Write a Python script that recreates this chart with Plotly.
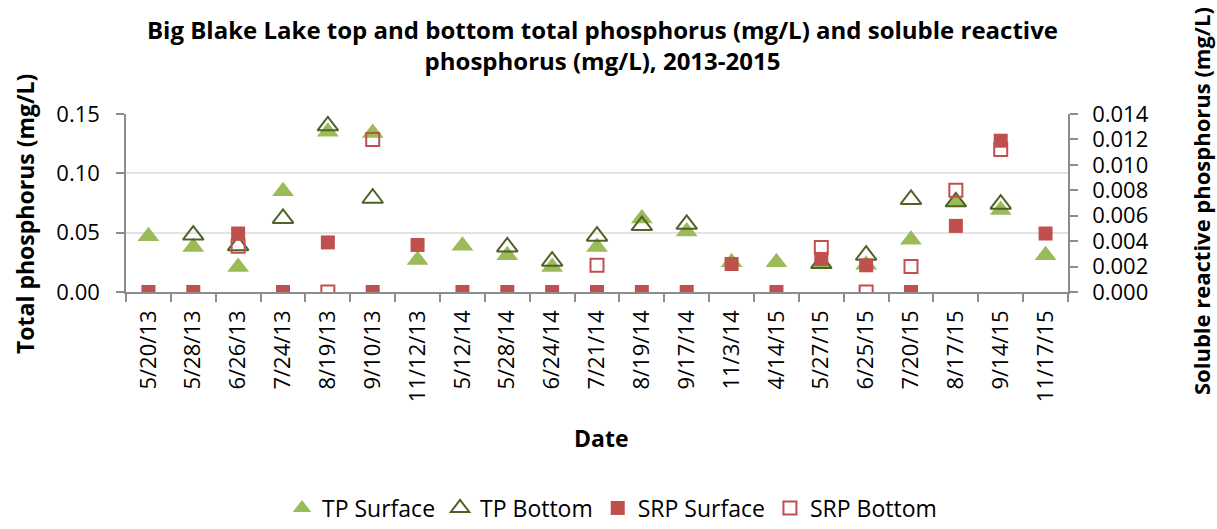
import plotly.graph_objects as go

dates = ["5/20/13", "5/28/13", "6/26/13", "7/24/13", "8/19/13", "9/10/13", "11/12/13",
         "5/12/14", "5/28/14", "6/24/14", "7/21/14", "8/19/14", "9/17/14", "11/3/14",
         "4/14/15", "5/27/15", "6/25/15", "7/20/15", "8/17/15", "9/14/15", "11/17/15"]

tp_surface = [0.047, 0.038, 0.021, 0.085, 0.135, 0.134, 0.027,
              0.039, 0.031, 0.021, 0.038, 0.062, 0.051, 0.025,
              0.025, 0.024, 0.023, 0.044, 0.076, 0.069, 0.031]
tp_bottom = [None, 0.048, 0.039, 0.062, 0.140, 0.079, None,
             None, 0.038, 0.026, 0.047, 0.056, 0.057, None,
             None, 0.024, 0.031, 0.078, 0.076, 0.074, None]
srp_surface = [0.0, 0.0, 0.0046, 0.0, 0.0039, 0.0, 0.0037,
               0.0, 0.0, 0.0, 0.0, 0.0, 0.0, 0.0022,
               0.0, 0.0026, 0.0021, 0.0, 0.0052, 0.0119, 0.0046]
srp_bottom = [None, None, 0.0036, None, 0.0, 0.0120, None,
              None, None, None, 0.0021, None, None, None,
              None, 0.0035, 0.0, 0.0020, 0.0080, 0.0112, None]

FONT = "Open Sans"
GREEN = "#9bbb59"
DKGREEN = "#4f6228"
RED = "#c0504d"
AXIS = "#8c8c8c"
FS = 22
TFS = 24
AFS = 23

fig = go.Figure()
fig.add_trace(go.Scatter(x=dates, y=tp_surface, mode="markers", name="TP Surface",
                         marker=dict(symbol="triangle-up", size=19, color=GREEN,
                                     line=dict(width=0))))
fig.add_trace(go.Scatter(x=dates, y=tp_bottom, mode="markers", name="TP Bottom",
                         marker=dict(symbol="triangle-up-open", size=18, color=DKGREEN,
                                     line=dict(width=2, color=DKGREEN))))
fig.add_trace(go.Scatter(x=dates, y=srp_surface, mode="markers", name="SRP Surface",
                         yaxis="y2",
                         marker=dict(symbol="square", size=14, color=RED,
                                     line=dict(width=0))))
fig.add_trace(go.Scatter(x=dates, y=srp_bottom, mode="markers", name="SRP Bottom",
                         yaxis="y2",
                         marker=dict(symbol="square-open", size=13, color=RED,
                                     line=dict(width=2, color=RED))))

fig.update_layout(
    width=1217, height=529,
    margin=dict(l=126, r=149, t=114, b=237, autoexpand=False),
    paper_bgcolor="white", plot_bgcolor="white",
    font=dict(family=FONT, size=FS, color="black"),
    title=dict(text="<b>Big Blake Lake top and bottom total phosphorus (mg/L) and soluble reactive<br>phosphorus (mg/L), 2013-2015</b>",
               x=602.5 / 1217, xanchor="center", y=1 - 38.5 / 529, yanchor="middle",
               font=dict(family=FONT, size=TFS, color="black")),
    xaxis=dict(type="category", categoryorder="array", categoryarray=dates,
               range=[-0.5, len(dates) - 0.5],
               showline=True, linecolor=AXIS, linewidth=1.5,
               ticks="outside", tickson="boundaries", ticklen=8, tickcolor=AXIS, tickwidth=1.5,
               tickangle=-90, showgrid=False, tickfont=dict(size=FS), ticklabelstandoff=8),
    yaxis=dict(range=[0, 0.15], dtick=0.05, tickformat=".2f",
               showline=True, linecolor=AXIS, linewidth=1.5,
               ticks="outside", ticklen=8, tickcolor=AXIS, tickwidth=1.5,
               showgrid=True, gridcolor="#e3e3e3", gridwidth=1.5, zeroline=False,
               tickfont=dict(size=FS), ticklabelstandoff=12),
    yaxis2=dict(range=[0, 0.014], dtick=0.002, tickformat=".3f", overlaying="y", side="right",
                showline=True, linecolor=AXIS, linewidth=1.5,
                ticks="outside", ticklen=8, tickcolor=AXIS, tickwidth=1.5,
                showgrid=False, zeroline=False, tickfont=dict(size=FS), ticklabelstandoff=10),
    legend=dict(orientation="h", xref="container", yref="container",
                x=612 / 1217, xanchor="center", y=21 / 529, yanchor="middle",
                font=dict(size=AFS), itemwidth=30),
    showlegend=True,
)

fig.add_annotation(text="<b>Total phosphorus (mg/L)</b>", xref="paper", yref="paper",
                   x=0, y=(292 - 214) / 178, xshift=25 - 126, textangle=-90, showarrow=False,
                   xanchor="center", yanchor="middle", font=dict(size=AFS))
fig.add_annotation(text="<b>Soluble reactive phosphorus (mg/L)</b>", xref="paper", yref="paper",
                   x=1, y=(292 - 201) / 178, xshift=1201 - 1068, textangle=-90, showarrow=False,
                   xanchor="center", yanchor="middle", font=dict(size=22))
fig.add_annotation(text="<b>Date</b>", xref="paper", yref="paper",
                   x=(601 - 126) / 942, y=0, yshift=-(438 - 292), showarrow=False,
                   xanchor="center", yanchor="middle", font=dict(size=AFS))

fig.write_html("out.html", config={"displayModeBar": False},
               post_script="document.body.style.margin='0';document.body.style.padding='0';")
